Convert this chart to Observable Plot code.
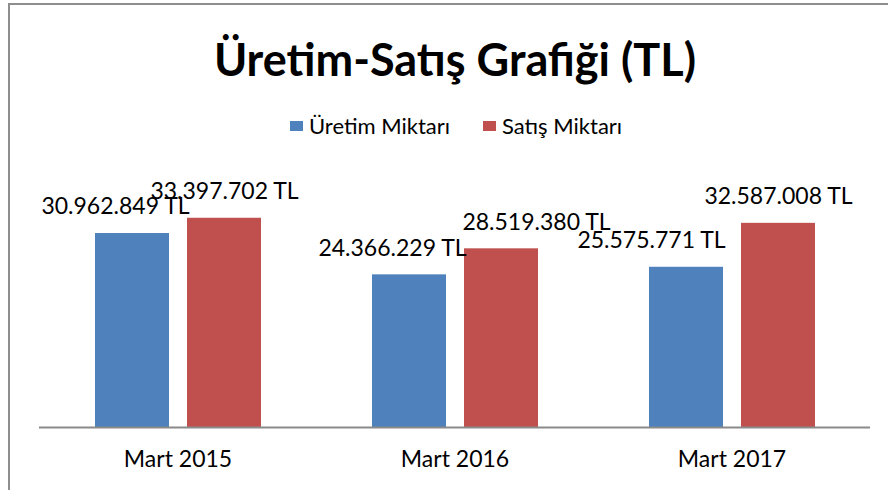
<!DOCTYPE html>
<html>
<head>
<meta charset="utf-8">
<script src="https://cdn.jsdelivr.net/npm/d3@7"></script>
<script src="https://cdn.jsdelivr.net/npm/@observablehq/plot@0.6"></script>
<style>
  html, body { margin: 0; padding: 0; background: #fff; overflow: hidden; }
  #wrap { position: relative; width: 888px; height: 490px; overflow: hidden; font-family: Lato, "Open Sans", sans-serif; }
  #border { position: absolute; left: 8px; top: 3px; width: 1000px; height: 1000px; border-left: 2px solid #8e8e8e; border-top: 2px solid #8e8e8e; }
  #title { position: absolute; left: 0; top: 34px; width: 910px; text-align: center; font-weight: 700; font-size: 45px; line-height: 50px; color: #000; white-space: nowrap; }
  #legend { position: absolute; top: 113px; left: 0; width: 100%; height: 26px; }
  .item { position: absolute; top: 0; display: flex; align-items: center; font-size: 22px; line-height: 26px; color: #000; white-space: nowrap; }
  .sw { width: 13px; height: 10px; margin-right: 6px; }
  #chart { position: absolute; left: 0; top: 150px; }
</style>
</head>
<body>
<div id="wrap">
  <div id="border"></div>
  <div id="title"></div>
  <div id="legend"></div>
  <div id="chart"></div>
</div>
<script>
const titleText = "Üretim-Satış Grafiği (TL)";
const categories = ["Mart 2015", "Mart 2016", "Mart 2017"];
const seriesNames = ["Üretim Miktarı", "Satış Miktarı"];
const uretim = [30962849, 24366229, 25575771];
const satis = [33397702, 28519380, 32587008];
const colors = ["#4F81BD", "#C0504D"];

// label nudges (Excel overlap avoidance), px, per category for [üretim, satış]
const labelNudge = [[-17, 0], [-17, 35], [-35, 0]];
const legendLeft = [290, 483];

const rows = [];
categories.forEach((c, i) => {
  rows.push({category: c, series: seriesNames[0], value: uretim[i], nudge: labelNudge[i][0]});
  rows.push({category: c, series: seriesNames[1], value: satis[i], nudge: labelNudge[i][1]});
});

document.getElementById("title").textContent = titleText;
const legend = document.getElementById("legend");
seriesNames.forEach((s, i) => {
  const it = document.createElement("div");
  it.className = "item";
  it.style.left = legendLeft[i] + "px";
  const sw = document.createElement("span");
  sw.className = "sw";
  sw.style.background = colors[i];
  const t = document.createElement("span");
  t.textContent = s;
  it.appendChild(sw); it.appendChild(t);
  legend.appendChild(it);
});

const trLocale = d3.formatLocale({decimal: ",", thousands: ".", grouping: [3], currency: ["", " TL"]});
const fmt = v => trLocale.format(",d")(v) + " TL";

const chart = Plot.plot({
  width: 888,
  height: 340,
  marginTop: 26.4,
  marginBottom: 63,
  marginLeft: 38,
  marginRight: 18,
  style: {fontFamily: "Lato, 'Open Sans', sans-serif", background: "transparent", color: "#000"},
  fx: {domain: categories, padding: 0, label: null, axis: null},
  x: {domain: seriesNames, paddingInner: 0.196, paddingOuter: 0.603, axis: null},
  y: {domain: [0, 40000000], axis: null},
  color: {domain: seriesNames, range: colors},
  marks: [
    Plot.barY(rows, {fx: "category", x: "series", y: "value", fill: "series", insetLeft: 0, insetRight: 0}),
    Plot.ruleY([0], {stroke: "#8a8a8a", strokeWidth: 2}),
    ...rows.map(r => Plot.text([r], {
      fx: "category", x: "series", y: "value", text: d => fmt(d.value),
      dx: r.nudge, dy: -26.4, fontSize: 23, fill: "#000", lineAnchor: "middle"
    })),
    Plot.axisFx({anchor: "bottom", tickSize: 0, tickPadding: 23, fontSize: 23, label: null, fill: "#000"})
  ]
});
document.getElementById("chart").appendChild(chart);
</script>
</body>
</html>
